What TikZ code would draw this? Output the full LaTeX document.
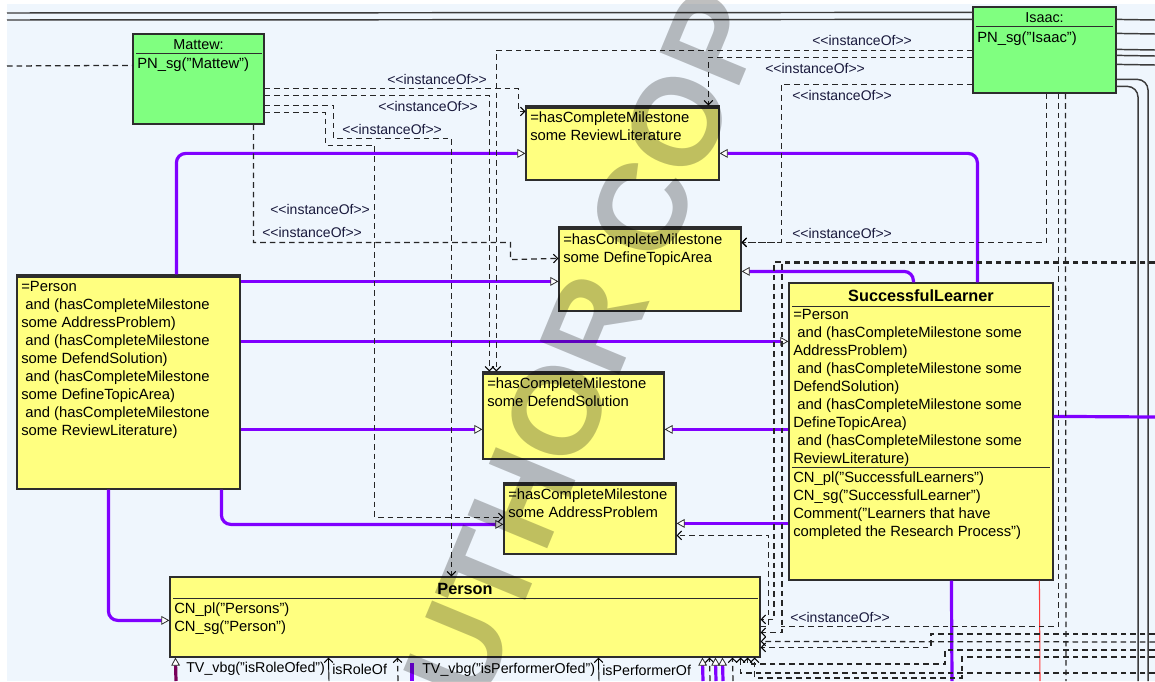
\documentclass[tikz,border=0pt]{standalone}
\usepackage{fontspec}
\setmainfont{Liberation Sans}
\usetikzlibrary{arrows.meta,calc,fit}
\definecolor{bgblue}{RGB}{239,246,253}
\definecolor{boxgreen}{RGB}{128,255,128}
\definecolor{boxyellow}{RGB}{255,255,128}
\definecolor{purp}{RGB}{128,0,255}
\definecolor{darkpurp}{RGB}{120,0,90}
\definecolor{edge}{RGB}{45,45,45}
\definecolor{lbl}{RGB}{25,25,60}
\definecolor{redline}{RGB}{255,60,60}
\definecolor{connc}{RGB}{60,60,60}
\tikzset{
  hollowtri/.tip={Triangle[color=edge, fill=white, length=6pt, width=6.5pt, line width=0.6pt]},
  barb/.tip={Straight Barb[color=black, length=3.2pt, width=6.5pt, line width=0.75pt]},
}
\begin{document}
\begin{tikzpicture}[x=0.75pt,y=-0.75pt,
  every node/.style={inner sep=0pt},
  font=\fontsize{10.5}{13.5}\selectfont,
  umlbox/.style={draw=edge, line width=0.9pt, inner sep=0pt},
  ybox/.style={umlbox, fill=boxyellow},
  gbox/.style={umlbox, fill=boxgreen},
  txt/.style={anchor=north west, align=left, text=black, font=\fontsize{11.1}{13.5}\selectfont},
  ttl/.style={font=\fontsize{12.2}{14}\selectfont\bfseries, text=black},
  sepline/.style={draw=edge, line width=0.9pt},
  lab/.style={anchor=west, text=lbl},
  inh/.style={draw=purp, line width=2.4pt, rounded corners=7pt, -hollowtri},
  purpline/.style={draw=purp, line width=2.4pt},
  dsh/.style={draw=black!85, line width=0.95pt, dash pattern=on 4.2pt off 3pt},
  dar/.style={dsh, -barb},
  conn/.style={draw=connc, line width=1.1pt},
]
\useasboundingbox (0,0) rectangle (1155,681);
\clip (0,0) rectangle (1155,681);
% background
\fill[white] (0,0) rectangle (1155,681);
\fill[bgblue] (7,4) rectangle (1155,681);

% free ends
\coordinate (t1) at (7,13);
\coordinate (t2) at (7,20);
\coordinate (l0) at (7,66);

% boxes
\node[gbox, fit={(133,34) (264,124)}] (mat) {};
\node[gbox, fit={(973,7) (1116,93)}] (isa) {};
\node[ybox, fit={(526,106) (719,180)}] (rl) {};
\node[ybox, fit={(559,227) (741,311)}] (dta) {};
\node[ybox, fit={(483,372) (664,459)}] (ds) {};
\node[ybox, fit={(504,483) (676,554)}] (ap) {};
\node[ybox, fit={(17,275) (240,489)}] (lp) {};
\node[ybox, fit={(789,283) (1053,580)}] (sl) {};
\node[ybox, fit={(170,577) (760,657)}] (per) {};

% compartment lines
\foreach \b in {rl,dta,ds,ap,lp}{
  \draw[sepline] ($(\b.north west)+(2,2.6)$) -- ($(\b.north east)+(-2,2.6)$);
}
\draw[sepline] ($(mat.north west)+(4,20)$) -- ($(mat.north east)+(-3,20)$);
\draw[sepline] ($(isa.north west)+(4,20)$) -- ($(isa.north east)+(-4,20)$);
\draw[sepline] ($(sl.north west)+(4,24)$) -- ($(sl.north east)+(-4,24)$);
\draw[sepline] ($(sl.north west)+(4,185)$) -- ($(sl.north east)+(-4,185)$);
\draw[sepline] ($(per.north west)+(4,22)$) -- ($(per.north east)+(-3,22)$);

% texts
\node[font=\fontsize{10.8}{13.5}\selectfont] at ($(mat.north)+(0,11)$) (matt) {Mattew:};
\node[txt] at (137,55.4) (matb) {\strut PN\_sg("Mattew")};
\node[font=\fontsize{10.8}{13.5}\selectfont] at ($(isa.north)+(0,11)$) (isat) {Isaac:};
\node[txt] at (977,29.4) (isab) {\strut PN\_sg("Isaac")};
\node[txt] at (530,109.4) (rlt) {\strut=hasCompleteMilestone\\some ReviewLiterature};
\node[txt] at (563,231.4) (dtat) {\strut=hasCompleteMilestone\\some DefineTopicArea};
\node[txt] at (487,375.4) (dst) {\strut=hasCompleteMilestone\\some DefendSolution};
\node[txt] at (508,486.4) (apt) {\strut=hasCompleteMilestone\\some AddressProblem};
\node[txt] at (21,278.4) (lpt) {\strut=Person\\\ and (hasCompleteMilestone\\some AddressProblem)\\\ and (hasCompleteMilestone\\some DefendSolution)\\\ and (hasCompleteMilestone\\some DefineTopicArea)\\\ and (hasCompleteMilestone\\some ReviewLiterature)};
\node[ttl] at ($(sl.north)+(0,13)$) (slt) {SuccessfulLearner};
\node[txt] at (793,307) (slb) {\strut=Person\\\ and (hasCompleteMilestone some\\AddressProblem)\\\ and (hasCompleteMilestone some\\DefendSolution)\\\ and (hasCompleteMilestone some\\DefineTopicArea)\\\ and (hasCompleteMilestone some\\ReviewLiterature)};
\node[txt] at (793,469.4) (slc) {\strut CN\_pl("SuccessfulLearners")\\CN\_sg("SuccessfulLearner")\\Comment("Learners that have\\completed the Research Process")};
\node[ttl] at ($(per.north)+(0,13)$) (pert) {Person};
\node[txt] at (174,600.7) (perb) {\strut CN\_pl("Persons")\\CN\_sg("Person")};

% solid structural lines
\draw[conn] (t1) -- ($(isa.north west)+(0,6)$);
\draw[conn] (t2) -- ($(isa.north west)+(0,13)$);
\coordinate (r1) at (1155,20);
\coordinate (r2) at (1155,34);
\coordinate (r3) at (1155,50);
\coordinate (r4) at (1155,56);
\coordinate (r5) at (1155,65);
\coordinate (r6) at (1148,681);
\coordinate (r7) at (1138,681);
\draw[conn] ($(isa.north east)+(0,13)$) -- (r1);
\draw[conn] ($(isa.north east)+(0,27)$) -- (r2);
\draw[conn] ($(isa.north east)+(0,43)$) -- (r3);
\draw[conn] ($(isa.north east)+(0,49)$) -- (r4);
\draw[conn] ($(isa.north east)+(0,58)$) -- (r5);
\draw[conn, rounded corners=8pt] ($(isa.north east)+(0,73)$) -| (r6);
\draw[conn, rounded corners=8pt] ($(isa.north east)+(0,80)$) -| (r7);

% purple generalisations
\draw[inh] ($(lp.north west)+(160,0)$) |- ($(rl.north west)+(0,48)$);
\draw[inh] ($(sl.north west)+(189,0)$) |- ($(rl.north east)+(0,48)$);
\draw[inh] ($(lp.north east)+(0,7)$) -- ($(dta.north west)+(0,55)$);
\draw[inh] ($(sl.north west)+(125,0)$) |- ($(dta.north east)+(0,45)$);
\draw[inh] ($(lp.north east)+(0,67)$) -- ($(sl.north west)+(0,59)$);
\draw[inh] ($(lp.north east)+(0,155)$) -- ($(ds.north west)+(0,58)$);
\draw[inh] ($(sl.north west)+(0,147)$) -- ($(ds.north east)+(0,58)$);
\draw[inh] ($(lp.south west)+(205,0)$) |- ($(ap.north west)+(0,42)$);
\draw[inh] ($(sl.north west)+(0,241)$) -- ($(ap.north east)+(0,41)$);
\draw[inh] ($(lp.south west)+(92,0)$) |- ($(per.north west)+(0,44)$);
\coordinate (e1) at (1155,417);
\coordinate (e2) at (952,681);
\coordinate (e3) at (1040,681);
\draw[purpline] ($(sl.north east)+(0,134)$) -- (e1);
\draw[purpline] ($(sl.south west)+(163,0)$) -- (e2);
\draw[draw=redline, line width=0.8pt] ($(sl.south west)+(251,0)$) -- (e3);

% instanceOf dependencies
\draw[dsh] (l0) -- ($(mat.north west)+(0,32)$);
\draw[dar] ($(mat.north east)+(0,55)$) -| ($(rl.north west)+(-7,6)$) -- ($(rl.north west)+(0,6)$);
\draw[dar] ($(mat.north east)+(0,62)$) -| ($(ds.north west)+(7,0)$);
\draw[dar] ($(mat.north east)+(0,72)$) -- ++(69,0) -- ++(0,33) -| ($(per.north west)+(282,0)$);
\draw[dar] ($(mat.north east)+(0,79)$) -- ++(61,0) -- ++(0,33) -- ++(49,0) |- ($(ap.north west)+(0,35)$);
\draw[dar] ($(mat.south west)+(121,0)$) -- ++(0,118) -| ++(257,17) -- ($(dta.north west)+(0,32)$);
\draw[dar] ($(isa.north west)+(0,44)$) -| ($(ds.north west)+(14,0)$);
\draw[dar] ($(isa.north west)+(0,51)$) -| ($(rl.north west)+(183,0)$);
\draw[dar] ($(isa.north west)+(0,78)$) -- ++(-191,0) -- ++(0,158) -- ($(dta.north east)+(0,16)$);
\draw[dar] ($(isa.south west)+(74,0)$) |- ($(dta.north east)+(0,16)$);
\draw[dsh] ($(isa.south west)+(86,0)$) -- ++(0,533) -- ++(-277,0);
\coordinate (q1) at (1155,263);
\coordinate (q2) at (1155,262);
\coordinate (q3) at (1155,634);
\coordinate (q4) at (1155,642);
\coordinate (q5) at (1155,657);
\coordinate (q6) at (1155,650);
\coordinate (q7) at (1155,673);
\coordinate (q8) at (1066,681);
\draw[dar] (q1) -- (782,263) |- ($(per.north east)+(0,56)$);
\draw[dar] (q2) -- (774,262) |- ($(per.north east)+(0,43)$);
\draw[dar] ($(per.north east)+(0,50)$) -- ++(8,0) |- ($(ap.north east)+(0,53)$);
\draw[dar] (q3) -- (931,634) |- ($(per.north east)+(0,71)$);
\draw[dar] (q4) -- ($(per.north east)+(0,65)$);
\draw[dar] (q5) -- (962,657) -- (962,678) -| ($(per.south east)+(-6,0)$);
\draw[dar] (q6) -- (945,650) -- (945,664) -| ($(per.south east)+(-13,0)$);
\draw[dar] (q7) -| ($(per.south east)+(-20,0)$);
\draw[dsh] ($(isa.south west)+(93,0)$) -- (q8);

% labels
\node[lab] at (387,79) (i1) {<{}<instanceOf>{}>};
\node[lab] at (378,106) (i2) {<{}<instanceOf>{}>};
\node[lab] at (342,129) (i3) {<{}<instanceOf>{}>};
\node[lab] at (270,209) (i4) {<{}<instanceOf>{}>};
\node[lab] at (262,232) (i5) {<{}<instanceOf>{}>};
\node[lab] at (812,40) (i6) {<{}<instanceOf>{}>};
\node[lab] at (765,68) (i7) {<{}<instanceOf>{}>};
\node[lab] at (792,95) (i8) {<{}<instanceOf>{}>};
\node[lab] at (792,233) (i9) {<{}<instanceOf>{}>};
\node[lab] at (790,617) (i10) {<{}<instanceOf>{}>};

% bottom strip
\coordinate (b1) at (176,681);
\coordinate (b2) at (329,681);
\coordinate (b3) at (398,681);
\coordinate (b4a) at (412,663);
\coordinate (b4b) at (412,681);
\coordinate (b5) at (599,681);
\coordinate (b6) at (703,681);
\coordinate (b7) at (716,681);
\coordinate (b8) at (723,681);
\coordinate (b9) at (710,681);
\coordinate (b10) at (733,681);
\draw[draw=darkpurp, line width=2.4pt, -hollowtri] (b1) -- ($(per.south west)+(6,0)$);
\draw[draw=black, line width=0.7pt, -barb] (b2) -- ($(per.south west)+(159,0)$);
\draw[dar] (b3) -- ($(per.south west)+(228,0)$);
\draw[purpline] (b4a) -- (b4b);
\draw[draw=black, line width=0.7pt, -barb] (b5) -- ($(per.south west)+(429,0)$);
\draw[dar] (b9) -- ($(per.south west)+(540,0)$);
\draw[dar] (b10) -- ($(per.south west)+(563,0)$);
\draw[inh] (b6) -- ($(per.south west)+(533,0)$);
\draw[inh] (b7) -- ($(per.south west)+(546,0)$);
\draw[inh] (b8) -- ($(per.south west)+(553,0)$);
\node[lab, text=black, font=\fontsize{10.7}{13.5}\selectfont] at (186,669) (v1) {TV\_vbg("isRoleOfed")};
\node[lab, text=black, font=\fontsize{10.7}{13.5}\selectfont] at (332,669) (v2) {isRoleOf};
\node[lab, text=black, font=\fontsize{10.7}{13.5}\selectfont] at (422,670) (v3) {TV\_vbg("isPerformerOfed")};
\node[lab, text=black, font=\fontsize{10.7}{13.5}\selectfont] at (602,670) (v4) {isPerformerOf};

% watermark
\node[rotate=67.5, text=black, text opacity=0.25, font=\fontsize{94}{94}\selectfont\bfseries] at (583,350) (wm) {AUTHOR COPY};
\end{tikzpicture}
\end{document}
